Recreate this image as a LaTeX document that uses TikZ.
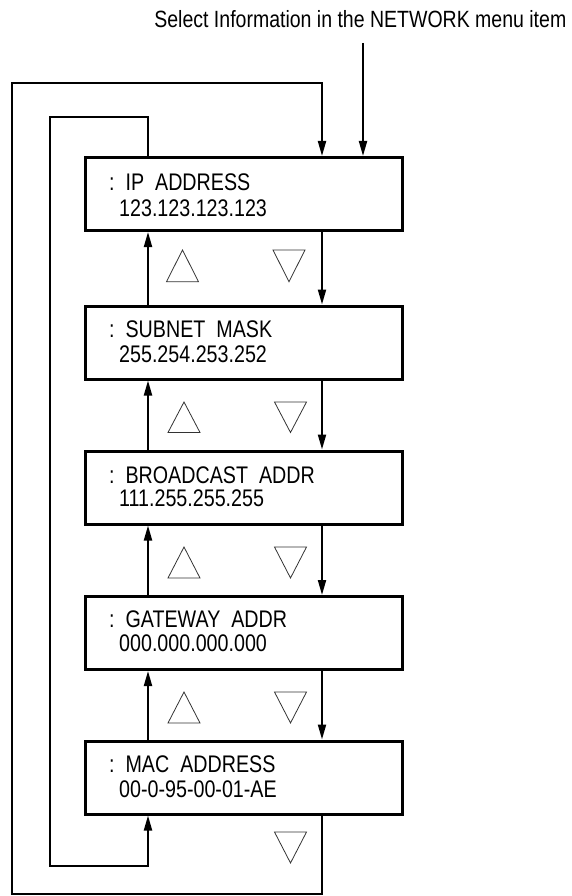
\documentclass[tikz,border=0pt]{standalone}
\usepackage{fontspec}
\setmainfont{Liberation Sans}[FakeStretch=0.82]
\newfontfamily\titlefont{Liberation Sans}[FakeStretch=0.83]
\usetikzlibrary{arrows.meta}
\tikzset{
  box/.style={draw, line width=3pt, minimum width=317pt, minimum height=73pt, inner sep=0pt},
  conn/.style={line width=2pt},
  arr/.style={conn, -{Triangle[length=15pt,width=8pt]}},
  lbl/.style={anchor=base west, inner sep=0pt, font=\fontsize{24}{28}\selectfont},
  tri/.style={draw=black!80, line width=0.8pt}
}
\begin{document}
\begin{tikzpicture}[x=1pt,y=-1pt]
\useasboundingbox (0,0) rectangle (572,896);
% title
\node[anchor=base east, inner sep=0pt, font=\titlefont\fontsize{23.5}{27}\selectfont] (title) at (566.5,27.3) {Select Information in the NETWORK menu item};
% boxes
\node[box] (b1) at (244,194) {};
\node[box] (b2) at (244,342.5) {};
\node[box] (b3) at (244,487.5) {};
\node[box] (b4) at (244,633) {};
\node[box] (b5) at (244,777.5) {};
% texts
\node[lbl] (t1a) at (109,190.5) {:\ \ IP\ \ ADDRESS};
\node[lbl] (t1b) at (119,216) {123.123.123.123};
\node[lbl] (t2a) at (109,337.7) {:\ \ SUBNET\ \ MASK};
\node[lbl] (t2b) at (119,362.7) {255.254.253.252};
\node[lbl] (t3a) at (109,483) {:\ \ BROADCAST\ \ ADDR};
\node[lbl] (t3b) at (119,506) {111.255.255.255};
\node[lbl] (t4a) at (109,627.7) {:\ \ GATEWAY\ \ ADDR};
\node[lbl] (t4b) at (119,651) {000.000.000.000};
\node[lbl] (t5a) at (109,772.7) {:\ \ MAC\ \ ADDRESS};
\node[lbl] (t5b) at (119,797) {00-0-95-00-01-AE};
% coordinates
\coordinate (dx) at (322,0);
\coordinate (ux) at (148,0);
\coordinate (entry) at (363,43);
\coordinate (ot) at (11.5,83);
\coordinate (ob) at (11.5,894);
\coordinate (it) at (50,117);
\coordinate (ib) at (50,866);
% connectors
\draw[arr] (entry) -- (b1.north -| entry);
\draw[arr] (b5.south -| dx) |- (ob) -- (ot) -| (b1.north -| dx);
\draw[arr] (b1.north -| ux) |- (it) -- (ib) -| (b5.south -| ux);
\foreach \a/\b in {b1/b2,b2/b3,b3/b4,b4/b5}{
  \draw[arr] (\a.south -| dx) -- (\b.north -| dx);
  \draw[arr] (\b.north -| ux) -- (\a.south -| ux);
}
% triangles
\foreach \cu/\cd/\yt/\yb in {182.5/289/250/281.7, 184/290.5/402/432.5, 184/290.5/547/578, 184/290.5/692/723}{
  \draw[tri] (\cu-16,\yb) -- (\cu+16,\yb) -- (\cu,\yt) -- cycle;
  \draw[tri] (\cd-16,\yt) -- (\cd+16,\yt) -- (\cd,\yb) -- cycle;
}
\draw[tri] (290.5-16,832) -- (290.5+16,832) -- (290.5,863) -- cycle;
\end{tikzpicture}
\end{document}
